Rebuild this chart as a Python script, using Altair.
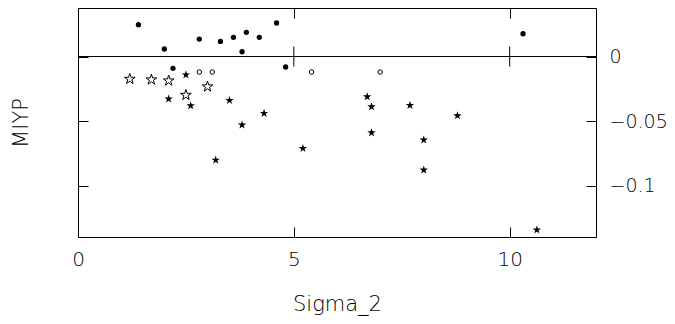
import altair as alt
import pandas as pd

# filled circles
fc_x = [1.40, 2.00, 2.81, 3.30, 3.60, 3.90, 3.80, 4.20, 4.60, 2.20, 4.81, 10.31]
fc_y = [0.0246, 0.0058, 0.0135, 0.0117, 0.0148, 0.0187, 0.0037, 0.0148, 0.0259, -0.0091, -0.0081, 0.0176]
# open circles
oc_x = [2.81, 3.11, 5.41, 7.00]
oc_y = [-0.0120, -0.0120, -0.0120, -0.0120]
# open stars
os_x = [1.20, 1.70, 2.10, 2.50, 3.00]
os_y = [-0.0174, -0.0179, -0.0187, -0.0298, -0.0233]
# filled stars
fs_x = [2.50, 2.10, 2.61, 3.51, 4.31, 3.80, 5.21, 3.19, 6.70, 6.80, 7.69, 8.79, 6.80, 8.01, 8.01, 10.63]
fs_y = [-0.0141, -0.0328, -0.0380, -0.0339, -0.0439, -0.0529, -0.0710, -0.0800,
        -0.0311, -0.0388, -0.0377, -0.0457, -0.0589, -0.0645, -0.0877, -0.1340]

x_domain = [0, 12]
y_domain = [-0.1395, 0.0375]
x_ticks = [0, 5, 10]
y_ticks = [-0.1, -0.05, 0]
zero_ticks_x = [5, 10]

STAR = ("M0,-1L0.225,-0.309L0.951,-0.309L0.363,0.118L0.588,0.809L0,0.382"
        "L-0.588,0.809L-0.363,0.118L-0.951,-0.309L-0.225,-0.309Z")
FONT = "DejaVu Sans"

xs = alt.Scale(domain=x_domain, nice=False, zero=False)
ys = alt.Scale(domain=y_domain, nice=False, zero=False)

ax_bottom = alt.Axis(orient="bottom", values=x_ticks, offset=-10, tickSize=10, domain=False,
                     grid=False, labelPadding=12, labelFlush=False, title="Sigma_2", titleY=66,
                     format="d")
ax_top = alt.Axis(orient="top", values=x_ticks, offset=-10, tickSize=10, domain=False,
                  grid=False, labels=False, ticks=True, title="")
ax_left = alt.Axis(orient="left", values=y_ticks, offset=-10, tickSize=10, domain=False,
                   grid=False, labels=False, title="MIYP", titleX=-57)
ax_right = alt.Axis(orient="right", values=y_ticks, offset=-10, tickSize=10, domain=False,
                    grid=False, labelPadding=13, labelFlush=False, title="", format="~g",
                    labelAlign="left", labelFontSize=19)

df_fc = pd.DataFrame({"x": fc_x, "y": fc_y})
df_oc = pd.DataFrame({"x": oc_x, "y": oc_y})
df_os = pd.DataFrame({"x": os_x, "y": os_y})
df_fs = pd.DataFrame({"x": fs_x, "y": fs_y})
df_zero = pd.DataFrame({"y": [0.0]})
df_zt = pd.DataFrame({"x": zero_ticks_x, "y": [0.0] * len(zero_ticks_x)})

zero_line = alt.Chart(df_zero).mark_rule(color="black", strokeWidth=1).encode(
    y=alt.Y("y:Q", scale=ys, axis=None)
)
zero_ticks = alt.Chart(df_zt).mark_tick(orient="vertical", size=20, thickness=1, color="black",
                                        opacity=1).encode(
    x=alt.X("x:Q", scale=xs, axis=None),
    y=alt.Y("y:Q", scale=ys, axis=None),
)
filled_circles = alt.Chart(df_fc).mark_point(shape="circle", filled=True, color="black", size=28, opacity=1).encode(
    x=alt.X("x:Q", scale=xs, axis=ax_bottom),
    y=alt.Y("y:Q", scale=ys, axis=ax_left),
)
open_circles = alt.Chart(df_oc).mark_point(shape="circle", filled=False, color="black", size=20,
                                            strokeWidth=1, opacity=1).encode(
    x=alt.X("x:Q", scale=xs, axis=ax_top),
    y=alt.Y("y:Q", scale=ys, axis=None),
)
open_stars = alt.Chart(df_os).mark_point(shape=STAR, filled=False, color="black", size=125,
                                          strokeWidth=1, opacity=1).encode(
    x=alt.X("x:Q", scale=xs, axis=None),
    y=alt.Y("y:Q", scale=ys, axis=None),
)
filled_stars = alt.Chart(df_fs).mark_point(shape=STAR, filled=True, color="black", size=80, opacity=1).encode(
    x=alt.X("x:Q", scale=xs, axis=None),
    y=alt.Y("y:Q", scale=ys, axis=ax_right),
)

chart = alt.layer(
    zero_line, zero_ticks, filled_circles, open_circles, open_stars, filled_stars
).resolve_scale(x="shared", y="shared").resolve_axis(x="independent", y="independent").properties(
    width=518, height=229,
    autosize=alt.AutoSizeParams(type="none"),
    padding={"left": 70, "top": 0, "right": 71, "bottom": 79},
).configure_view(stroke="black", strokeWidth=1).configure_axis(
    tickColor="black", tickWidth=1,
    labelFont=FONT, labelFontSize=20, labelColor="black", labelFontWeight=300,
    titleFont=FONT, titleFontSize=21, titleColor="black", titleFontWeight=300,
)

chart.save("out.html", embed_options={"renderer": "svg", "actions": False})
